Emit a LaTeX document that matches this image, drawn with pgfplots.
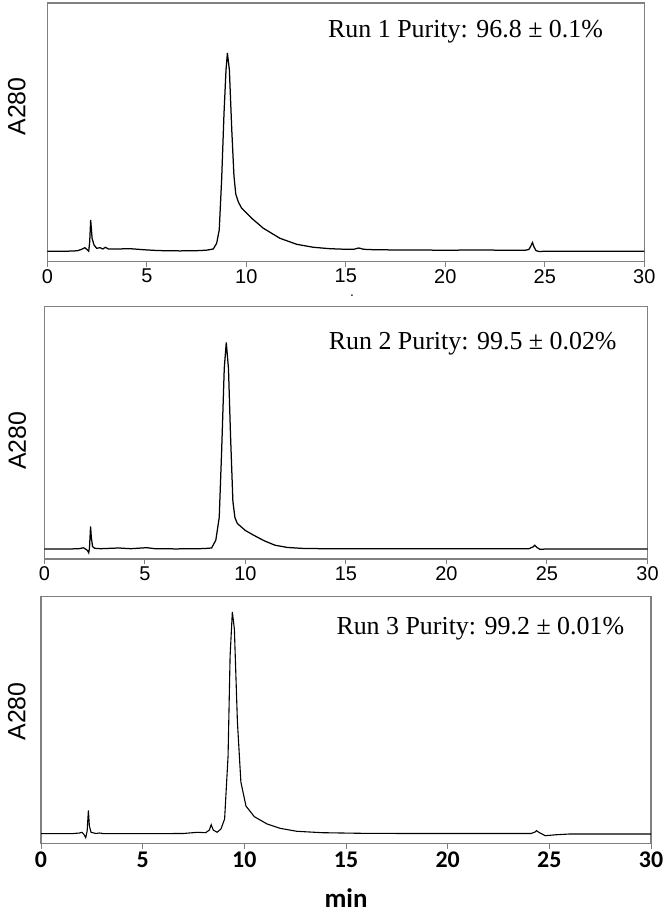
\documentclass[border=0pt]{standalone}
\usepackage{fontspec}
\setmainfont{Liberation Serif}
\newfontfamily\arialf{Liberation Sans}
\newfontfamily\calib{Carlito}
\usepackage{pgfplots}
\pgfplotsset{compat=1.18}
\begin{document}
\begin{tikzpicture}
\path (0bp,0bp) rectangle (664bp,918bp);
\pgfplotsset{chrom/.style={scale only axis, xmin=0, xmax=30, xtick={0,5,...,30}, ytick=\empty,
  tick align=outside, xtick pos=bottom, major tick length=5bp,
  axis line style={draw=black!50, line width=1.1bp},
  every tick/.style={black!50, line width=1bp},
  /pgf/number format/assume math mode=true,
  anchor=south west}}
% ---------- Run 1 ----------
\begin{axis}[chrom, at={(47.3bp,656.3bp)}, width=597bp, height=258.7bp, ymin=-9.7, ymax=249,
  xticklabel style={font=\arialf\fontsize{20}{22}\selectfont, yshift=1bp}]
\addplot[black, line width=1.25bp] coordinates {
(0,0.7) (0.5,0.7) (1.0,0.8) (1.5,1.2) (1.73,2.7) (1.89,4.3) (1.98,2.7) (2.08,0.7) (2.13,10) (2.18,32) (2.22,22) (2.25,13.7) (2.35,7) (2.48,3.7) (2.65,4.3) (2.79,3) (2.92,4.7) (3.07,3) (3.5,3) (4.16,3.3) (4.82,2.3) (5.3,1.7) (5.83,1.3) (6.67,1.1) (7.5,1.3) (8.0,1.8) (8.34,3) (8.51,8.7) (8.64,22) (8.76,72) (8.88,138.7) (8.98,182) (9.05,199) (9.15,182) (9.27,122) (9.38,76) (9.47,58) (9.6,50) (9.77,43.7) (10.27,33.7) (10.86,23.7) (11.69,13.7) (12.53,7.7) (13.37,4.7) (14.2,3.3) (15.0,2.7) (15.4,2.7) (15.65,4) (15.9,2.7) (16.5,2.2) (18,2) (20,1.8) (22,2) (23,1.7) (24.0,1.7) (24.2,2.5) (24.3,6) (24.38,9.4) (24.46,5) (24.55,1.5) (24.7,0.5) (25,0.7) (27,0.8) (30,0.8)
};
\end{axis}
% ---------- Run 2 ----------
\begin{axis}[chrom, at={(44.3bp,359bp)}, width=603.2bp, height=252.3bp, ymin=-9.5, ymax=242.8,
  xticklabel style={font=\arialf\fontsize{20}{22}\selectfont, yshift=1bp}]
\addplot[black, line width=1.25bp] coordinates {
(0,0.5) (1.0,0.5) (1.7,0.7) (1.94,1.7) (2.05,0.5) (2.15,-1) (2.21,-3.3) (2.25,2) (2.3,23) (2.34,12) (2.4,3) (2.5,1.2) (2.8,0.8) (3.7,1.5) (4.3,0.8) (5.1,1.8) (5.5,0.8) (6.5,0.6) (7.5,0.7) (8.0,1.0) (8.32,1.5) (8.53,9.3) (8.7,32) (8.82,98.5) (8.95,181) (9.05,207) (9.16,181) (9.26,115) (9.38,48) (9.48,32) (9.6,26) (10.0,19) (10.42,14.2) (10.95,8.6) (11.47,4.3) (12.1,2) (12.94,1) (14,0.8) (18,0.8) (22,0.8) (24.1,0.8) (24.3,2.5) (24.39,4.3) (24.5,2) (24.65,0.2) (25,0.5) (30,0.5)
};
\end{axis}
% ---------- Run 3 ----------
\begin{axis}[chrom, at={(41bp,74.3bp)}, width=610bp, height=247.2bp, ymin=-9.7, ymax=237.5,
  xticklabel style={font=\calib\bfseries\fontsize{24}{26}\selectfont}]
\addplot[black, line width=1.1bp] coordinates {
(0,0.3) (1.5,0.3) (1.9,1) (2.01,1.7) (2.1,0) (2.2,-3.7) (2.27,3) (2.33,23.5) (2.38,8) (2.46,1.7) (2.7,0.5) (2.88,1) (3.1,0.3) (5,0.3) (7,0.5) (7.7,1.7) (8.1,1.3) (8.28,4) (8.37,9.3) (8.47,4) (8.66,1.7) (8.85,5) (9.03,15) (9.2,78) (9.3,178) (9.41,222) (9.51,205) (9.66,112) (9.83,52) (10.08,28) (10.49,17.3) (11.12,10) (11.75,5.7) (12.58,2.7) (13.83,1.3) (15.7,0.7) (18,0.5) (24.1,0.5) (24.3,2) (24.37,3.3) (24.5,1.5) (24.8,-1.7) (25.3,-0.8) (26,0) (30,0)
};
\end{axis}
% ---------- texts ----------
\node[anchor=base west, inner sep=0pt, font=\fontsize{26}{28}\selectfont] at (328bp,880.7bp) {Run 1 Purity: 96.8 ± 0.1\%};
\node[anchor=base west, inner sep=0pt, font=\fontsize{26}{28}\selectfont] at (328.7bp,568bp) {Run 2 Purity: 99.5 ± 0.02\%};
\node[anchor=base west, inner sep=0pt, font=\fontsize{26}{28}\selectfont] at (336.3bp,283.2bp) {Run 3 Purity: 99.2 ± 0.01\%};
\node[rotate=90, inner sep=0pt, font=\arialf\fontsize{25}{28}\selectfont] at (16.8bp,811.5bp) {A280};
\node[rotate=90, inner sep=0pt, font=\arialf\fontsize{25}{28}\selectfont] at (17.3bp,477.2bp) {A280};
\node[rotate=90, inner sep=0pt, font=\arialf\fontsize{25}{28}\selectfont] at (16.8bp,206.5bp) {A280};
\node[inner sep=0pt, font=\arialf\fontsize{14}{16}\selectfont] at (352bp,622bp) {.};
\node[inner sep=0pt, font=\calib\bfseries\fontsize{27}{30}\selectfont] at (346bp,20bp) {min};
\end{tikzpicture}
\end{document}
